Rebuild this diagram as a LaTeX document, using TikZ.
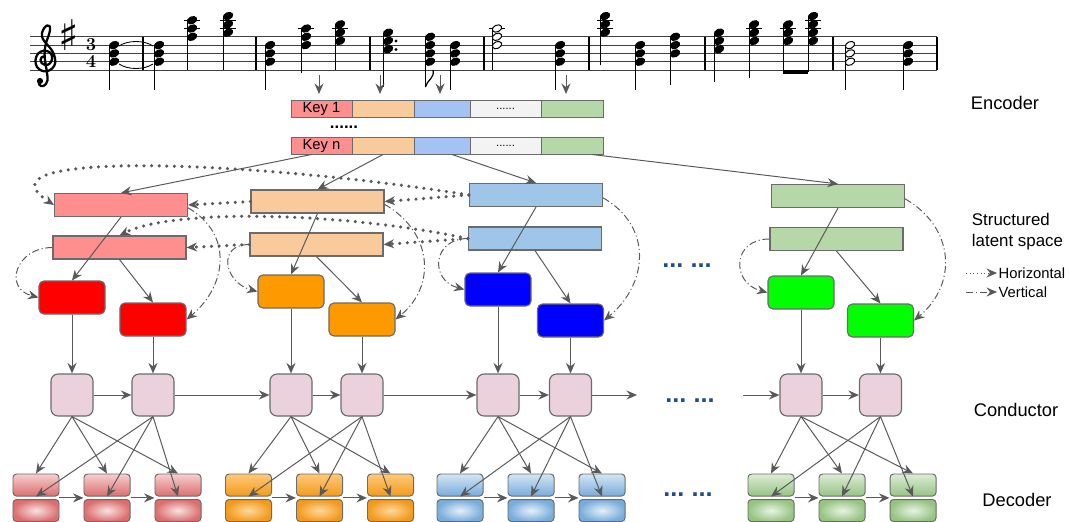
\documentclass[tikz,border=0pt]{standalone}
\usepackage{fontspec}
\newfontfamily\arial{Liberation Sans}
\newfontfamily\dejavu{DejaVu Sans}
\usetikzlibrary{arrows.meta}

\definecolor{linegray}{HTML}{595959}
\definecolor{boxgray}{HTML}{6B6B6B}
\definecolor{latred}{HTML}{FF8E8E}
\definecolor{latorange}{HTML}{F9CB9C}
\definecolor{latblue}{HTML}{9FC5E8}
\definecolor{latgreen}{HTML}{B6D7A8}
\definecolor{encblue}{HTML}{A4C2F4}
\definecolor{encgray}{HTML}{F3F3F3}
\definecolor{unitred}{HTML}{FF0000}
\definecolor{unitorange}{HTML}{FF9900}
\definecolor{unitblue}{HTML}{0000FF}
\definecolor{unitgreen}{HTML}{00FF00}
\definecolor{condpink}{HTML}{EAD1DC}
\definecolor{dotblue}{HTML}{1F4E8C}
\definecolor{r-light}{HTML}{F6CFCF}
\definecolor{r-dark}{HTML}{DC6E6E}
\definecolor{r-inner}{HTML}{F9E2E2}
\definecolor{o-light}{HTML}{FFC97A}
\definecolor{o-dark}{HTML}{F29A1C}
\definecolor{o-inner}{HTML}{FFD89E}
\definecolor{b-light}{HTML}{D4E5F4}
\definecolor{b-dark}{HTML}{78ACDB}
\definecolor{b-inner}{HTML}{E6F0F9}
\definecolor{g-light}{HTML}{DCECD6}
\definecolor{g-dark}{HTML}{96C483}
\definecolor{g-inner}{HTML}{E9F3E5}

\tikzset{
  arr/.style={-{Stealth[length=7.5pt,width=6.5pt,inset=2.5pt,line width=0pt]},linegray,line width=0.7pt},
  horiz/.style={arr,line width=2.5pt,dash pattern=on 0pt off 5.4pt,line cap=round},
  vert/.style={arr,dash pattern=on 5pt off 2pt on 0.8pt off 2pt},
  enc/.style={draw=boxgray,line width=0.7pt,minimum height=0.425cm,inner sep=0pt,font=\arial\fontsize{10.5}{10.5}\selectfont},
  latent/.style={draw=boxgray,line width=0.8pt,minimum width=3.325cm,minimum height=0.575cm,inner sep=0pt},
  unit/.style={draw=boxgray,line width=0.8pt,rounded corners=3.5pt,minimum width=1.65cm,minimum height=0.825cm,inner sep=0pt},
  cond/.style={draw=boxgray,fill=condpink,line width=0.8pt,rounded corners=5pt,minimum size=1.05cm,inner sep=0pt},
  dec/.style={draw=boxgray,line width=0.7pt,rounded corners=2.5pt,minimum width=1.15cm,minimum height=0.55cm,inner sep=0pt},
  moredots/.style={text=dotblue,font=\arial\bfseries\fontsize{18}{18}\selectfont},
  sidetext/.style={font=\arial\fontsize{13}{15}\selectfont},
  legendtext/.style={font=\arial\fontsize{10.5}{10.5}\selectfont,anchor=west,inner sep=1pt}
}

\begin{document}
\begin{tikzpicture}[x=0.025cm,y=-0.025cm]
\useasboundingbox (0,0) rectangle (1070,521);

\foreach \i in {0,...,4}
  \draw[line width=0.6pt,black!75] (30,{36.75+8.3*\i}) -- (937,{36.75+8.3*\i});
\foreach \x in {143,256,370,484,589,705,833,937}
  \draw[line width=1pt] (\x,36.75) -- (\x,70);
\draw[line width=1.6pt] (45,57) .. controls (39,55) and (39,64) .. (45,65)
  .. controls (53,66) and (55,53) .. (47,51) .. controls (37,49) and (33,60) .. (37,67)
  .. controls (43,76) and (58,70) .. (55,58) .. controls (53,46) and (40,42) .. (42,33)
  .. controls (44,25) and (51,22) .. (50,30) .. controls (49,38) and (43,44) .. (45,60)
  .. controls (47,74) and (49,80) .. (46,84) .. controls (43,88) and (38,86) .. (39,82);
\fill (40,81) circle (2.2pt);
\node[font=\dejavu\fontsize{30}{30}\selectfont,inner sep=0pt] (sharp) at (69,35) {♯};
\node[font=\bfseries\fontsize{13}{13}\selectfont,inner sep=0pt] (tsig3) at (91,44.5) {3};
\node[font=\bfseries\fontsize{13}{13}\selectfont,inner sep=0pt] (tsig4) at (91,61) {4};

\foreach \x/\p/\n/\s/\f in {114/6/3/90/black, 159/6/3/90/black, 192/12/3/70/black,
    228/13/3/70/black, 270/6/3/90/black, 306/10/3/73/black, 340/11/3/70/black,
    388/9/3/87/black, 430/8/4/87/black, 455/6/3/90/black, 497/10/3/70/white,
    560/6/3/90/black, 605/13/3/65/black, 640/6/3/90/black, 675/8/3/85/black,
    719/9/3/82/black, 754/11/3/78/black, 788/11/3/72/black, 813/13/4/72/black,
    850/6/3/90/white, 908/6/3/90/black}{
  \pgfmathsetmacro\ty{70-4.15*\p}
  \ifnum\p>9 \draw[line width=0.6pt] (\x-8,28.45) -- (\x+8,28.45); \fi
  \ifnum\p>11 \draw[line width=0.6pt] (\x-8,20.15) -- (\x+8,20.15); \fi
  \draw[line width=0.9pt] (\x-4.6,\ty) -- (\x-4.6,\s);
  \foreach \k in {1,...,\n}{
    \pgfmathsetmacro\ny{\ty+8.3*(\k-1)}
    \filldraw[fill=\f,line width=0.7pt,rotate around={25:(\x,\ny)}] (\x,\ny) ellipse (3.5pt and 2.4pt);
  }
}
\draw[line width=0.6pt] (119,46) .. controls (128,40) and (144,40) .. (153,46);
\draw[line width=0.6pt] (119,64) .. controls (128,70) and (144,70) .. (153,64);
\fill (396,41) circle (1.2pt) (396,49.5) circle (1.2pt);
\draw[line width=0.9pt] (425.4,87) .. controls (427,80) and (435,78) .. (433,70);
\draw[line width=2.5pt] (783.4,72) -- (808.4,72);

\foreach \x [count=\i] in {319,380,440,566}{
  \coordinate (note\i) at (\x,75);
  \coordinate (slot\i) at (\x,94);
  \draw[arr] (note\i) -- (slot\i);
}

\foreach \b/\y/\t in {one/108.5/Key 1, n/145.5/Key n}{
  \node[enc,fill=latred,minimum width=1.525cm] (key\b1) at (321.5,\y) {\t};
  \node[enc,fill=latorange,minimum width=1.55cm] (key\b2) at (383,\y) {};
  \node[enc,fill=encblue,minimum width=1.4cm] (key\b3) at (442,\y) {};
  \node[enc,fill=encgray,minimum width=1.775cm,font=\arial\fontsize{8}{8}\selectfont] (key\b4) at (505.5,\y) {......};
  \node[enc,fill=latgreen,minimum width=1.55cm] (key\b5) at (572,\y) {};
}
\node[font=\arial\bfseries\fontsize{12}{12}\selectfont] (keydots) at (344,127) {......};
\node[sidetext] (encoder) at (1005,103) {Encoder};

\foreach \g/\lc/\uc/\tx/\ty/\bx/\by/\ax/\ay/\cx/\cy in {
    r/latred/unitred/121/205/119.5/247.5/72/297.5/153/319.5,
    o/latorange/unitorange/317.5/201.5/316.5/244.5/291/291.5/362/319.5,
    b/latblue/unitblue/536/195/535/238.5/498/289.5/570.5/320.5,
    g/latgreen/unitgreen/838/196/836.5/239/801/292.5/880.5/320.5}{
  \node[latent,fill=\lc] (\g top) at (\tx,\ty) {};
  \node[latent,fill=\lc] (\g bot) at (\bx,\by) {};
  \node[unit,fill=\uc] (\g one) at (\ax,\ay) {};
  \node[unit,fill=\uc] (\g two) at (\cx,\cy) {};
  \node[cond] (\g c1) at (\ax,395) {};
  \node[cond] (\g c2) at (\cx,395) {};
  \draw[arr] (\g top.south) -- (\g one.north);
  \draw[arr] (\g bot.south) -- (\g two.north);
  \draw[arr] (\g one.south) -- (\g c1.north);
  \draw[arr] (\g two.south) -- (\g c2.north);
  \draw[arr] (\g c1) -- (\g c2);
  \draw[vert] ([yshift=-2pt]\g top.east) to[out=-30,in=40,looseness=1.2] (\g two.east);
  \draw[vert] (\g bot.west) to[out=180,in=165,looseness=1.8] (\g one.west);
}

\foreach \g/\x in {r/36,o/248.5,b/460,g/771}{
  \foreach \i in {0,1,2}{
    \node[dec,top color=\g-light,bottom color=\g-dark] (\g t\i) at (\x+71*\i,485) {};
    \node[dec,inner color=\g-inner,outer color=\g-dark] (\g b\i) at (\x+71*\i,510.5) {};
  }
  \foreach \i in {0,1,2}{
    \draw[arr] (\g c1.south) -- (\g t\i.north);
    \draw[arr] (\g c2.south) -- (\g t\i.south);
  }
  \draw[arr] ([yshift=-1pt]\g t0.south east) -- ([yshift=-1pt]\g t1.south west);
  \draw[arr] ([yshift=-1pt]\g t1.south east) -- ([yshift=-1pt]\g t2.south west);
}

\draw[arr] ([xshift=-0.25cm]keyn1.south) -- (rtop.north);
\draw[arr] (keyn2.south) -- (otop.north);
\draw[arr] ([xshift=0.25cm]keyn3.south) -- (btop.north);
\draw[arr] ([xshift=0.5cm]keyn5.south) -- (gtop.north);

\draw[horiz] (otop.west) -- (rtop.east);
\draw[horiz] (obot.west) -- (rbot.east);
\draw[horiz] (btop.west) -- (otop.east);
\draw[horiz] (bbot.west) -- (obot.east);
\draw[horiz] (btop.west) .. controls (250,160) and (-30,150) .. (rtop.west);
\draw[horiz] (bbot.west) .. controls (330,210) and (170,210) .. (rbot.north);

\draw[arr] (rc2) -- (oc1);
\draw[arr] (oc2) -- (bc1);
\coordinate (condout) at (637,395);
\coordinate (condin) at (743,395);
\draw[arr] (bc2) -- (condout);
\draw[arr] (condin) -- (gc1);

\node[moredots] (latdots) at (687,266) {...\hspace{5pt}...};
\node[moredots] (conddots) at (690,401) {...\hspace{5pt}...};
\node[moredots] (decdots) at (688,495) {...\hspace{5pt}...};

\node[sidetext,font=\arial\fontsize{12}{15}\selectfont,align=left,anchor=west] (latent) at (967,232) {Structured\\latent space};
\node[legendtext] (horlabel) at (997,273) {Horizontal};
\node[legendtext] (verlabel) at (997,292) {Vertical};
\coordinate (horstart) at (966,273);
\coordinate (verstart) at (966,292);
\draw[arr,dash pattern=on 0.6pt off 2pt] (horstart) -- (horlabel.west);
\draw[vert] (verstart) -- (verlabel.west);
\node[sidetext] (conductor) at (1016,410) {Conductor};
\node[sidetext] (decoder) at (1017,500) {Decoder};
\end{tikzpicture}
\end{document}
